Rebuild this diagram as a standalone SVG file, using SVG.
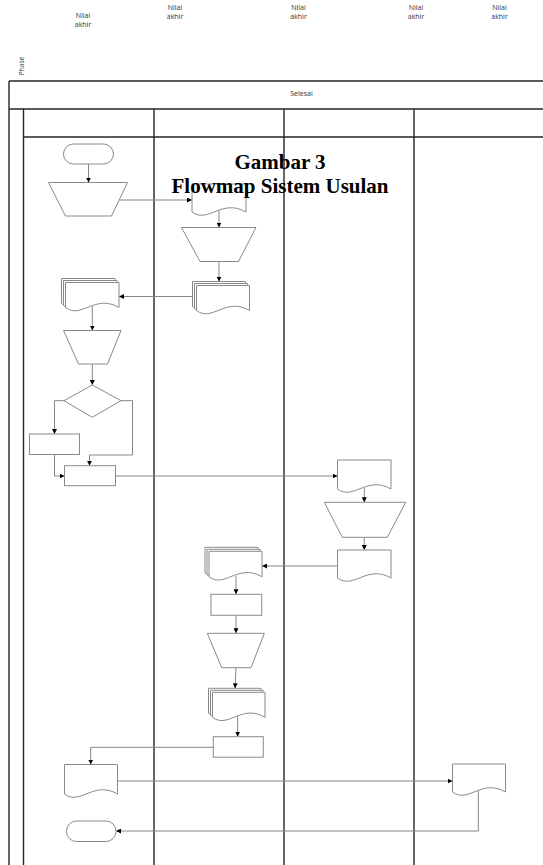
<svg xmlns="http://www.w3.org/2000/svg" width="543" height="865" viewBox="0 0 543 865">
<style>
.frame{fill:none;stroke:#262626;stroke-width:1.4}
.shape{fill:#fff;stroke:#8a8a8a;stroke-width:1}
.conn{fill:none;stroke:#858585;stroke-width:1}
.lbl{font-family:"Open Sans","Liberation Sans",sans-serif;font-size:7px;fill:#333;text-anchor:middle}
.title{font-family:"Liberation Serif","Times New Roman",serif;font-size:21px;font-weight:bold;fill:#000;text-anchor:middle}
</style>
<defs>
<marker id="arr" viewBox="0 0 6 6" refX="6" refY="3" markerWidth="5" markerHeight="5" markerUnits="userSpaceOnUse" orient="auto"><path d="M0,0 L6,3 L0,6 z" fill="#000"/></marker>
</defs>
<rect width="543" height="865" fill="#fff"/>
<g id="labels-top">
<text class="lbl" x="83" y="17.5">Nilai</text><text class="lbl" x="83" y="26.5">akhir</text>
<text class="lbl" x="175" y="9.8">Nilai</text><text class="lbl" x="175" y="19.2">akhir</text>
<text class="lbl" x="298.5" y="9.8">Nilai</text><text class="lbl" x="298.5" y="19.2">akhir</text>
<text class="lbl" x="416" y="9.8">Nilai</text><text class="lbl" x="416" y="19.2">akhir</text>
<text class="lbl" x="499.5" y="9.8">Nilai</text><text class="lbl" x="499.5" y="19.2">akhir</text>
<text class="lbl" style="font-size:6.5px" transform="translate(23.5,66) rotate(-90)">Phase</text>
</g>
<g id="frame">
<path class="frame" d="M9,81 H543 M9,109 H543 M23.5,137 H543 M9,81 V865 M23.5,109 V865 M154,109 V865 M284,109 V865 M414,109 V865"/>
<text class="lbl" x="301.5" y="95.5">Selesai</text>
</g>
<g id="connectors">
<path class="conn" d="M88.5,164 V182.5" marker-end="url(#arr)"/>
<path class="conn" d="M119.5,200 H192" marker-end="url(#arr)"/>
<path class="conn" d="M219,211 V227.5" marker-end="url(#arr)"/>
<path class="conn" d="M219,261.5 V281.5" marker-end="url(#arr)"/>
<path class="conn" d="M192.5,296.5 H119" marker-end="url(#arr)"/>
<path class="conn" d="M92.3,306 V330.5" marker-end="url(#arr)"/>
<path class="conn" d="M92.3,364 V385" marker-end="url(#arr)"/>
<path class="conn" d="M64,400.7 H54.5 V434" marker-end="url(#arr)"/>
<path class="conn" d="M121,400.7 H132.5 V455 H89.5 V465.7" marker-end="url(#arr)"/>
<path class="conn" d="M54.5,454.5 V476 H64.5" marker-end="url(#arr)"/>
<path class="conn" d="M115.5,476 H337.5" marker-end="url(#arr)"/>
<path class="conn" d="M364.3,488 V502.3" marker-end="url(#arr)"/>
<path class="conn" d="M364.3,537.3 V550" marker-end="url(#arr)"/>
<path class="conn" d="M337.5,566 H262" marker-end="url(#arr)"/>
<path class="conn" d="M236,576 V594.3" marker-end="url(#arr)"/>
<path class="conn" d="M236,615.3 V633.3" marker-end="url(#arr)"/>
<path class="conn" d="M236,667.7 L235,688.3" marker-end="url(#arr)"/>
<path class="conn" d="M237.7,716 V736.7" marker-end="url(#arr)"/>
<path class="conn" d="M213.3,747.3 H90.7 V764.5" marker-end="url(#arr)"/>
<path class="conn" d="M117.5,781 H452.5" marker-end="url(#arr)"/>
<path class="conn" d="M478.3,789 V831 H116" marker-end="url(#arr)"/>
</g>
<g id="start"><rect class="shape" x="63.5" y="144" width="50" height="20" rx="10"/></g>
<g id="input1"><path class="shape" d="M48.5,182.5 H127.5 L111.5,216 H65.5 Z"/></g>
<g id="doc1"><path class="shape" d="M192,184 H246 V212 C221.7,198 208.2,224 192,212 Z"/></g>
<g id="input2"><path class="shape" d="M181.5,227.5 H256 L238.5,261.5 H200 Z"/></g>
<g id="multidoc2">
<path class="shape" d="M192.5,281.5 H245.5 V306.5 C221.7,292.5 208.4,318.5 192.5,306.5 Z"/>
<path class="shape" d="M194.5,283.5 H247.5 V308.5 C223.7,294.5 210.4,320.5 194.5,308.5 Z"/>
<path class="shape" d="M196.5,285.5 H249.5 V310.5 C225.7,296.5 212.4,322.5 196.5,310.5 Z"/>
</g>
<g id="multidoc1">
<path class="shape" d="M61.5,278.5 H115 V303.5 C90.9,289.5 77.6,315.5 61.5,303.5 Z"/>
<path class="shape" d="M63.5,280.5 H117 V305.5 C92.9,291.5 79.6,317.5 63.5,305.5 Z"/>
<path class="shape" d="M65.5,282.5 H119 V307.5 C94.9,293.5 81.6,319.5 65.5,307.5 Z"/>
</g>
<g id="input3"><path class="shape" d="M63.5,330.5 H121 L107.5,364 H78.5 Z"/></g>
<g id="decision"><path class="shape" d="M92.3,385 L121,400.7 L92.3,417.3 L64,400.7 Z"/></g>
<g id="process1"><rect class="shape" x="29.5" y="434" width="50" height="20.5"/></g>
<g id="process2"><rect class="shape" x="64.5" y="465.7" width="51" height="20"/></g>
<g id="doc3"><path class="shape" d="M337.5,460 H391 V489 C366.9,475 353.6,501 337.5,489 Z"/></g>
<g id="input4"><path class="shape" d="M324.3,502.3 H405.7 L387.3,537.3 H342.3 Z"/></g>
<g id="doc4"><path class="shape" d="M337.5,550 H391 V578 C366.9,564 353.6,590 337.5,578 Z"/></g>
<g id="multidoc3">
<path class="shape" d="M205,547.3 H258 V572.8 C234.2,558.8 220.9,584.8 205,572.8 Z"/>
<path class="shape" d="M207,549.3 H260 V574.8 C236.2,560.8 222.9,586.8 207,574.8 Z"/>
<path class="shape" d="M209,551.3 H262 V576.8 C238.2,562.8 224.9,588.8 209,576.8 Z"/>
</g>
<g id="process3"><rect class="shape" x="211" y="594.3" width="50.7" height="21"/></g>
<g id="input5"><path class="shape" d="M207.3,633.3 H264.3 L251,667.7 H221.7 Z"/></g>
<g id="multidoc4">
<path class="shape" d="M208.5,688.3 H261 V713.3 C237.4,699.3 224.3,725.3 208.5,713.3 Z"/>
<path class="shape" d="M210.5,690.3 H263 V715.3 C239.4,701.3 226.3,727.3 210.5,715.3 Z"/>
<path class="shape" d="M212.5,692.3 H265 V717.3 C241.4,703.3 228.3,729.3 212.5,717.3 Z"/>
</g>
<g id="process4"><rect class="shape" x="213.3" y="736.7" width="50" height="20.5"/></g>
<g id="doc5"><path class="shape" d="M64.5,764.5 H117.5 V794 C93.7,780 80.4,806 64.5,794 Z"/></g>
<g id="doc6"><path class="shape" d="M452.5,764 H505.5 V792 C481.7,778 468.4,804 452.5,792 Z"/></g>
<g id="end"><rect class="shape" x="66.5" y="821" width="49.5" height="20.5" rx="10"/></g>
<g id="title">
<text class="title" x="280" y="169">Gambar 3</text>
<text class="title" x="280" y="193">Flowmap Sistem Usulan</text>
</g>
</svg>
